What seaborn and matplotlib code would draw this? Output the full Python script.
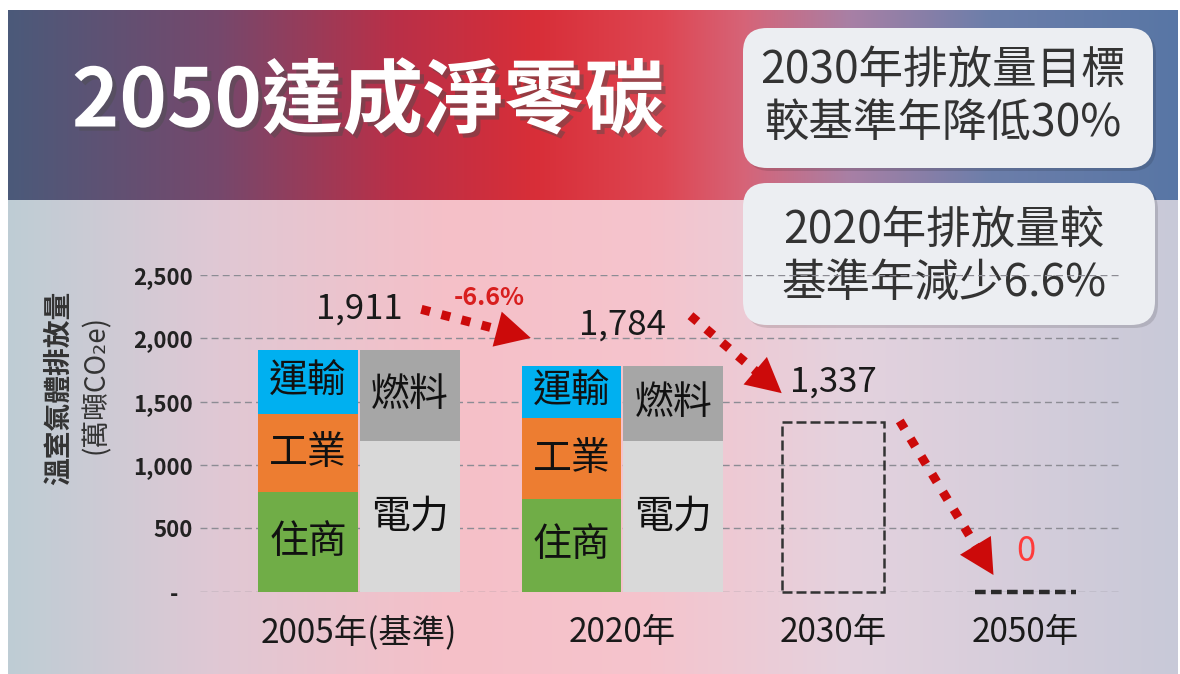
import numpy as np
import pandas as pd
import matplotlib
matplotlib.use("Agg")
import matplotlib.pyplot as plt
import matplotlib.patheffects as pe
from matplotlib.patches import FancyBboxPatch
from matplotlib.transforms import offset_copy
import seaborn as sns

# emissions, 萬噸CO2e
years = ["2005年(基準)", "2020年", "2030年", "2050年"]
totals = [1911, 1784, 1337, 0]

sector_names = ["住商", "工業", "運輸"]
sector_2005 = [787, 615, 509]
sector_2020 = [731, 639, 414]

source_names = ["電力", "燃料"]
source_2005 = [1192, 719]
source_2020 = [1190, 594]

yticks = [0, 500, 1000, 1500, 2000, 2500]
ytick_labels = ["-   ", "500", "1,000", "1,500", "2,000", "2,500"]

# layout / style
group_x = [0.5, 3.09, 5.16, 7.05]
col_w = 0.98
colors = {"住商": "#70ad47", "工業": "#ed7d31", "運輸": "#00b0f0",
          "電力": "#d9d9d9", "燃料": "#a6a6a6"}
red = "#cc0a0a"

sns.set_style("white")
plt.rcParams["font.family"] = ["Noto Sans CJK TC", "DejaVu Sans"]

W, H = 1180, 674
fig = plt.figure(figsize=(W / 100, H / 100), dpi=100, facecolor="white")

# ---- background (pixel coordinates) ----
bg = fig.add_axes([0, 0, 1, 1])
bg.axis("off")


def gradient(stops, n=600):
    pos = np.array([s[0] for s in stops])
    cols = np.array([s[1] for s in stops], dtype=float) / 255
    t = np.linspace(0, 1, n)
    return np.stack([np.interp(t, pos, cols[:, i]) for i in range(3)], axis=-1)[None, :, :]


band = gradient([(0.0, (75, 90, 122)), (0.18, (118, 72, 108)), (0.33, (185, 48, 72)),
                 (0.45, (216, 46, 56)), (0.56, (222, 70, 82)), (0.63, (214, 100, 120)),
                 (0.72, (168, 128, 165)), (0.84, (108, 126, 170)), (1.0, (88, 118, 165))])
lower = gradient([(0.0, (190, 205, 213)), (0.18, (224, 200, 212)), (0.38, (246, 192, 200)),
                  (0.55, (245, 196, 205)), (0.72, (228, 210, 222)), (1.0, (200, 201, 216))])
bg.imshow(lower, extent=(8, 1178, 674, 200), aspect="auto", zorder=0)
bg.imshow(band, extent=(8, 1178, 200, 10), aspect="auto", zorder=0)
bg.set_xlim(0, W)
bg.set_ylim(H, 0)

bg.text(368, 103, "2050達成淨零碳", fontsize=58, fontweight="bold", color="white",
        ha="center", va="center",
        path_effects=[pe.SimplePatchShadow(offset=(3, -3), alpha=0.45), pe.Normal()])

boxes = [((743, 28, 410, 140), ["2030年排放量目標", "較基準年降低30%"], (70, 123)),
         ((743, 183, 412, 142), ["2020年排放量較", "基準年減少6.6%"], (230, 283))]
for (bx, by, bw, bh), lines, ys in boxes:
    bg.add_patch(FancyBboxPatch((bx + 3, by + 3), bw, bh, boxstyle="round,pad=0,rounding_size=24",
                                fc=(0, 0, 0, 0.12), ec="none", zorder=2))
    bg.add_patch(FancyBboxPatch((bx, by), bw, bh, boxstyle="round,pad=0,rounding_size=24",
                                fc="#eceef2", ec="none", zorder=3))
    for line, ly in zip(lines, ys):
        bg.text(bx + bw / 2 - 5, ly, line, fontsize=32, color="#333333",
                ha="center", va="center", zorder=4)

bg.text(59, 388, "溫室氣體排放量", rotation=90, fontsize=20, fontweight="bold",
        color="#333333", ha="center", va="center")
bg.text(96, 385, "(萬噸CO₂e)", rotation=90, fontsize=20, color="#333333",
        ha="center", va="center")

# ---- chart ----
ax = fig.add_axes([200 / W, 1 - 591.7 / H, 922 / W, (591.7 - 275) / H])
ax.patch.set_alpha(0)


def draw_layer(xs, ys, keys):
    df = pd.DataFrame({"x": xs, "y": ys, "key": keys})
    ux = np.unique(xs)
    step = np.diff(ux).min() if len(ux) > 1 else 1
    sns.barplot(df, x="x", y="y", hue="key", palette=colors, native_scale=True,
                orient="x", dodge=False, width=col_w / step, saturation=1,
                errorbar=None, legend=False, ax=ax, zorder=2, linewidth=0)


sec_x = [group_x[0] - 0.5, group_x[1] - 0.5]
src_x = [group_x[0] + 0.5, group_x[1] + 0.5]
sec_vals = np.array([sector_2005, sector_2020])
src_vals = np.array([source_2005, source_2020])
sec_cum = sec_vals.cumsum(axis=1)
src_cum = src_vals.cumsum(axis=1)

# stacked columns drawn from the tallest layer down
for lvl in [2, 1, 0]:
    xs, ys = list(sec_x), list(sec_cum[:, lvl])
    keys = [sector_names[lvl]] * 2
    if lvl >= 1:
        xs += src_x
        ys += list(src_cum[:, lvl - 1])
        keys += [source_names[lvl - 1]] * 2
    draw_layer(xs, ys, keys)

for i in range(2):
    for j, name in enumerate(sector_names):
        ax.text(sec_x[i], sec_cum[i, j] - sec_vals[i, j] / 2, name, fontsize=28,
                fontweight="medium", color="#111111", ha="center", va="center", zorder=5)
    for j, name in enumerate(source_names):
        ax.text(src_x[i], src_cum[i, j] - src_vals[i, j] / 2, name, fontsize=28,
                fontweight="medium", color="#111111", ha="center", va="center", zorder=5)

# targets: dashed outlines
tx = group_x[2:]
tdf = pd.DataFrame({"x": tx, "y": totals[2:]})
n_before = len(ax.patches)
sns.barplot(tdf, x="x", y="y", native_scale=True, orient="x", fill=False,
            color="#333333", width=1.0 / (tx[1] - tx[0]), errorbar=None, ax=ax,
            linewidth=1.8, linestyle=(0, (4, 1.6)), zorder=3)
target_bars = ax.patches[n_before:]
for p in target_bars:
    p.set_clip_on(False)
# a zero-height bar collapses to a line: redraw it as a single dashed stroke
zero_bar = target_bars[-1]
zero_bar.set_visible(False)
ax.hlines(zero_bar.get_y() + zero_bar.get_height(), zero_bar.get_x(),
          zero_bar.get_x() + zero_bar.get_width(), colors="#2a2a2a", lw=3.2,
          linestyles=[(0, (2.4, 1.2))], zorder=3, clip_on=False)

# value labels
for gx, v in zip(group_x, totals):
    ax.annotate(f"{v:,}", (gx, v), xytext=(0, 29), textcoords="offset points",
                ha="center", va="center", fontsize=25,
                color="#ff3b3b" if v == 0 else "#1a1a1a", zorder=6)

change = (totals[1] - totals[0]) / totals[0] * 100
ax.annotate(f"{change:.1f}%", (group_x[0], totals[0]), xytext=(94, 37),
            textcoords="offset points", ha="center", va="center", fontsize=18,
            fontweight="bold", color="#d81e1e", zorder=6)

# dotted arrows between labels (offsets in points from each value)
arrow_offsets = [((45, 29), (-66, 20)), ((49, 36), (-37, 21)), ((48, 1), (-23, 12))]
for i, (s_off, e_off) in enumerate(arrow_offsets):
    s_tr = offset_copy(ax.transData, fig=fig, x=s_off[0], y=s_off[1], units="points")
    e_tr = offset_copy(ax.transData, fig=fig, x=e_off[0], y=e_off[1], units="points")
    start = (group_x[i], totals[i])
    end = (group_x[i + 1], totals[i + 1])
    ax.annotate("", xy=end, xycoords=e_tr, xytext=start, textcoords=s_tr,
                arrowprops=dict(arrowstyle="-", lw=6.5, linestyle=(0, (1, 1.3)),
                                capstyle="butt", color=red, shrinkA=0, shrinkB=19),
                zorder=6)
    ax.annotate("", xy=end, xycoords=e_tr, xytext=start, textcoords=s_tr,
                arrowprops=dict(arrowstyle="-|>,head_length=1.25,head_width=0.65",
                                mutation_scale=20, lw=0, color=red,
                                shrinkA=0, shrinkB=0), zorder=6)

ax.set_xlim(-1.061, 7.999)
ax.set_ylim(0, 2500)
ax.set_yticks(yticks, ytick_labels, fontweight="bold", fontsize=16, color="#222222")
ax.set_xticks(group_x, years, fontsize=24, color="#1a1a1a")
ax.tick_params(axis="both", length=0)
ax.tick_params(axis="y", pad=5)
ax.tick_params(axis="x", pad=17)
ax.set_xlabel("")
ax.set_ylabel("")
ax.yaxis.grid(True, linestyle=(0, (5, 3)), color="#8c8c94", lw=1.0)
ax.xaxis.grid(False)
ax.set_axisbelow(True)
for sp in ax.spines.values():
    sp.set_visible(False)

fig.savefig("out.png", dpi=100)
